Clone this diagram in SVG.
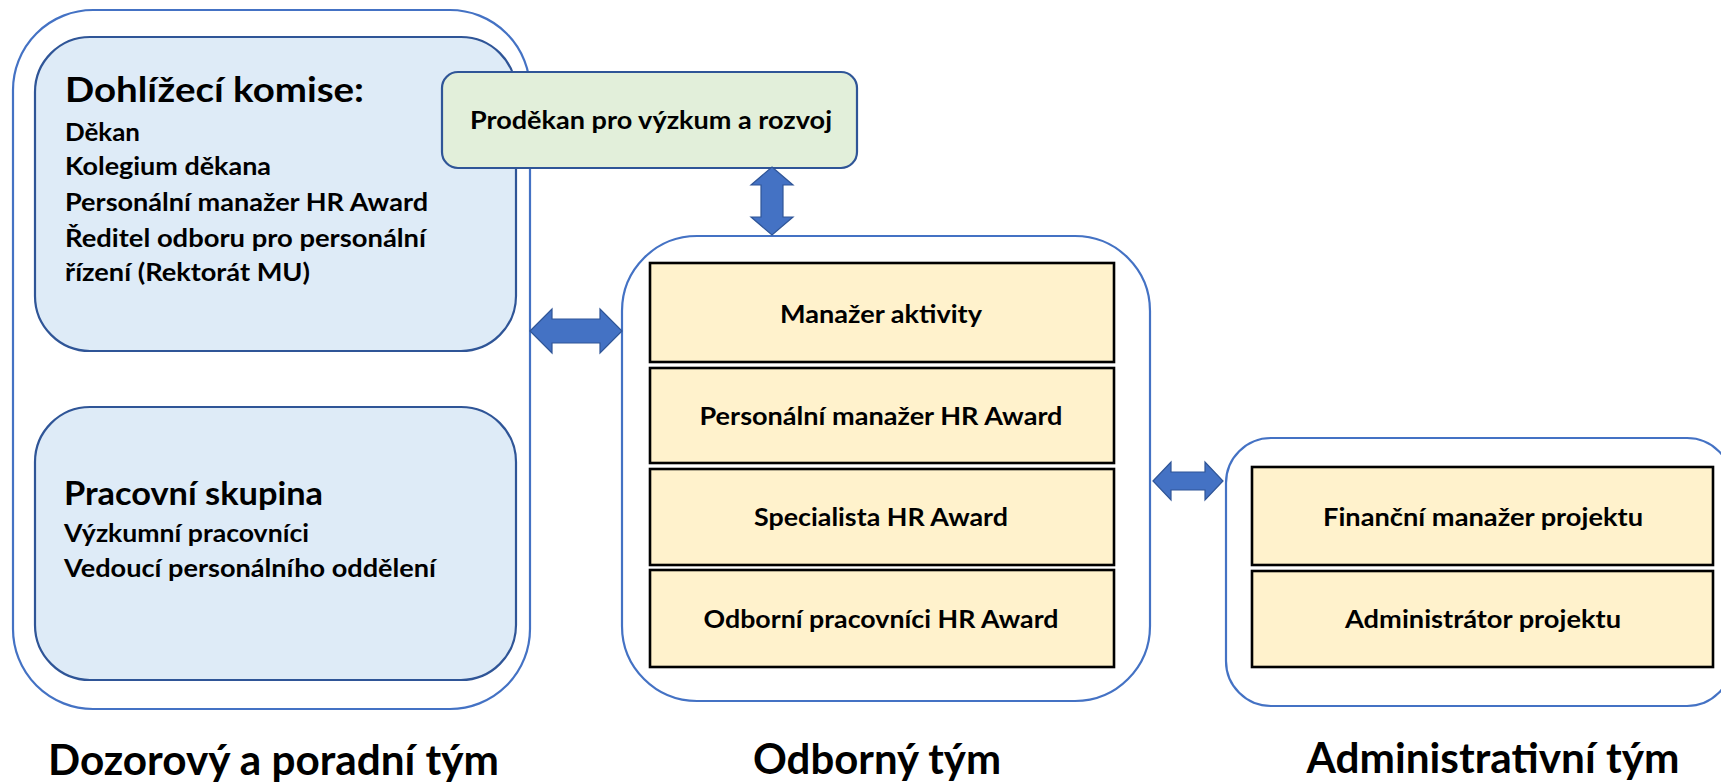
<svg xmlns="http://www.w3.org/2000/svg" width="1721" height="784" viewBox="0 0 1721 784">
<style>
.team{fill:#fff;stroke:#4472C4;stroke-width:2.2}
.blue{fill:#DEEBF7;stroke:#2F5597;stroke-width:2.2}
.green{fill:#E2EFDA;stroke:#2F5597;stroke-width:2.2}
.yel{fill:#FFF2CC;stroke:#000;stroke-width:2.6}
.arr{fill:#4472C4;stroke:#2F5597;stroke-width:1.2;stroke-linejoin:miter}
text{font-family:Lato,"Open Sans","Liberation Sans",sans-serif;font-weight:700;fill:#000}
.c{text-anchor:middle}
</style>
<rect width="1721" height="784" fill="#fff"/>
<g id="team-dozor">
<rect class="team" x="13" y="10" width="517" height="699" rx="80"/>
<text x="48" y="775" font-size="42" textLength="451" lengthAdjust="spacingAndGlyphs">Dozorový a poradní tým</text>
</g>
<g id="dohlizeci">
<rect class="blue" x="35" y="37" width="481" height="314" rx="55"/>
<text x="65" y="102" font-size="35" textLength="299" lengthAdjust="spacingAndGlyphs">Dohlížecí komise:</text>
<text x="65" y="141" font-size="24" textLength="75" lengthAdjust="spacingAndGlyphs">Děkan</text>
<text x="65" y="175" font-size="24" textLength="206" lengthAdjust="spacingAndGlyphs">Kolegium děkana</text>
<text x="65" y="211" font-size="24" textLength="363" lengthAdjust="spacingAndGlyphs">Personální manažer HR Award</text>
<text x="65" y="247" font-size="24" textLength="361" lengthAdjust="spacingAndGlyphs">Ředitel odboru pro personální</text>
<text x="65" y="281" font-size="24" textLength="245" lengthAdjust="spacingAndGlyphs">řízení (Rektorát MU)</text>
</g>
<g id="pracovni">
<rect class="blue" x="35" y="407" width="481" height="273" rx="55"/>
<text x="64" y="505" font-size="32" textLength="259" lengthAdjust="spacingAndGlyphs">Pracovní skupina</text>
<text x="64" y="542" font-size="24" textLength="245" lengthAdjust="spacingAndGlyphs">Výzkumní pracovníci</text>
<text x="64" y="577" font-size="24" textLength="372" lengthAdjust="spacingAndGlyphs">Vedoucí personálního oddělení</text>
</g>
<g id="prodekan">
<rect class="green" x="442" y="72" width="415" height="96" rx="16"/>
<text class="c" x="651" y="129" font-size="25" textLength="362" lengthAdjust="spacingAndGlyphs">Proděkan pro výzkum a rozvoj</text>
</g>
<g id="team-odborny">
<rect class="team" x="622" y="236" width="528" height="465" rx="75"/>
<text class="c" x="877" y="774" font-size="42" textLength="248" lengthAdjust="spacingAndGlyphs">Odborný tým</text>
</g>
<g id="manazer-aktivity">
<rect class="yel" x="650" y="263" width="464" height="99"/>
<text class="c" x="881" y="323" font-size="25" textLength="202" lengthAdjust="spacingAndGlyphs">Manažer aktivity</text>
</g>
<g id="personalni-manazer">
<rect class="yel" x="650" y="368" width="464" height="95"/>
<text class="c" x="881" y="425" font-size="25" textLength="363" lengthAdjust="spacingAndGlyphs">Personální manažer HR Award</text>
</g>
<g id="specialista">
<rect class="yel" x="650" y="469" width="464" height="96"/>
<text class="c" x="881" y="526" font-size="25" textLength="254" lengthAdjust="spacingAndGlyphs">Specialista HR Award</text>
</g>
<g id="odborni-pracovnici">
<rect class="yel" x="650" y="570" width="464" height="97"/>
<text class="c" x="881" y="628" font-size="25" textLength="355" lengthAdjust="spacingAndGlyphs">Odborní pracovníci HR Award</text>
</g>
<g id="team-admin">
<rect class="team" x="1226" y="438" width="506" height="268" rx="45"/>
<text class="c" x="1493" y="773" font-size="42" textLength="373" lengthAdjust="spacingAndGlyphs">Administrativní tým</text>
</g>
<g id="financni">
<rect class="yel" x="1252" y="467" width="461" height="98"/>
<text class="c" x="1483" y="526" font-size="25" textLength="320" lengthAdjust="spacingAndGlyphs">Finanční manažer projektu</text>
</g>
<g id="administrator">
<rect class="yel" x="1252" y="571" width="461" height="96"/>
<text class="c" x="1483" y="628" font-size="25" textLength="276" lengthAdjust="spacingAndGlyphs">Administrátor projektu</text>
</g>
<g id="connectors">
<polygon class="arr" points="530,331 552,309 552,319 600,319 600,309 622,331 600,353 600,343 552,343 552,353"/>
<polygon class="arr" points="772,167 793,185 783,185 783,217 793,217 772,235 751,217 761,217 761,185 751,185"/>
<polygon class="arr" points="1153,481 1171,462 1171,472 1205,472 1205,462 1223,481 1205,500 1205,490 1171,490 1171,500"/>
</g>
</svg>
